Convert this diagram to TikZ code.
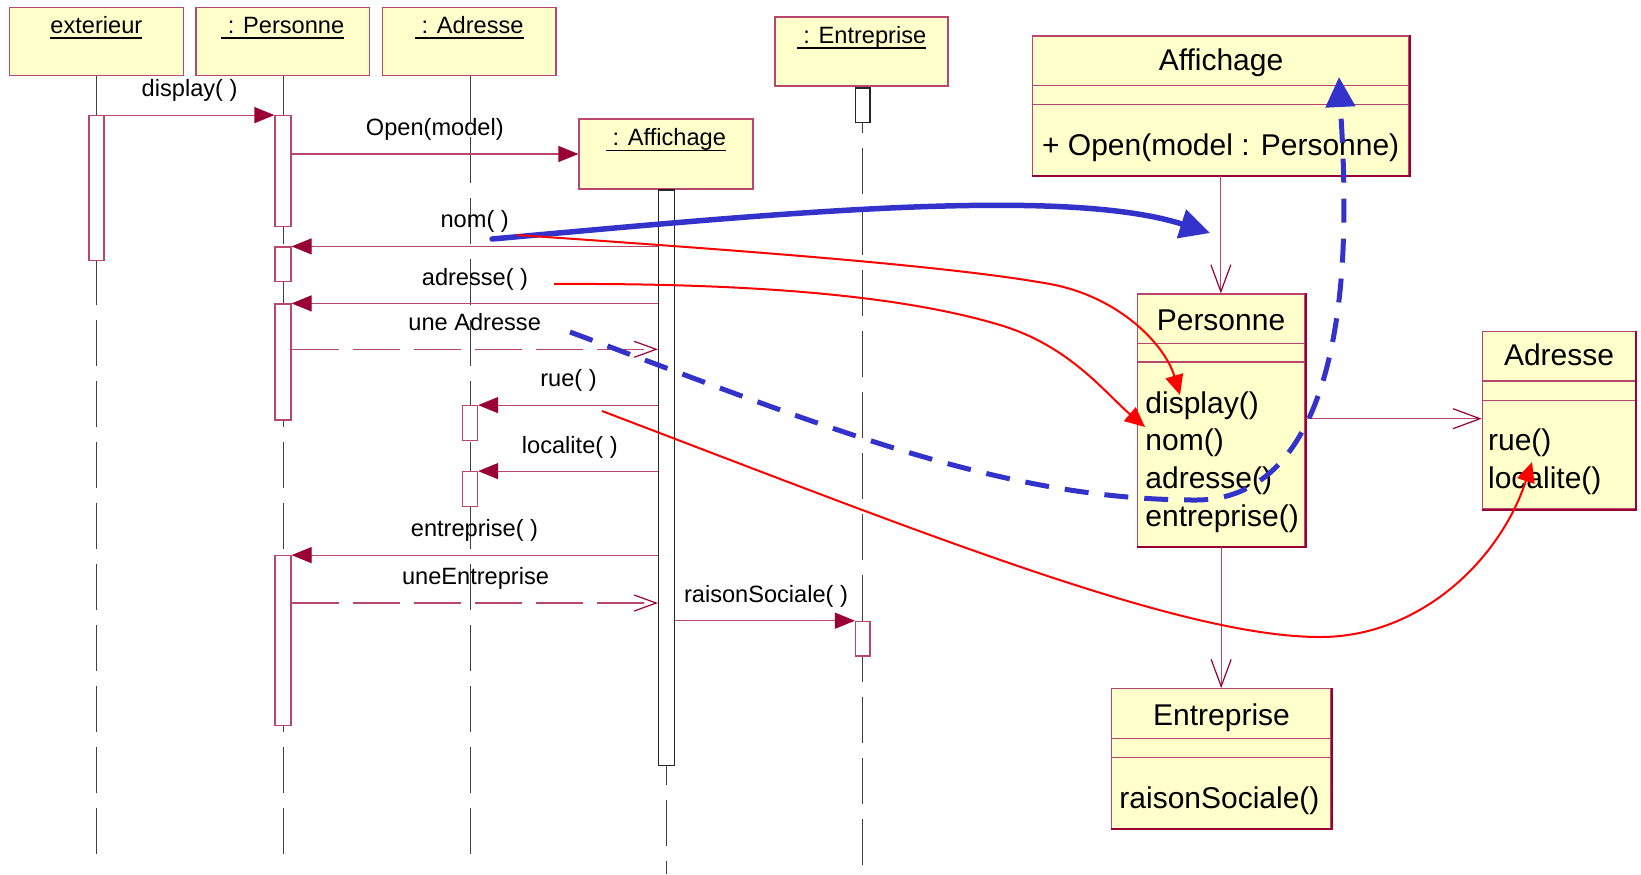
\documentclass[tikz,border=0pt]{standalone}
\usepackage{fontspec}
\setmainfont{Liberation Sans}
\usetikzlibrary{arrows.meta,fit}

\definecolor{paper}{HTML}{FFFFCC}
\definecolor{crim}{HTML}{990033}
\definecolor{rose}{HTML}{B8466E}
\definecolor{annblue}{HTML}{3333CC}
\definecolor{annred}{HTML}{FF0000}

% underlined object name, rule a little below the baseline
\newcommand\hdrul[1]{\setbox0\hbox{#1}\rlap{\rule[-2.9pt]{\wd0}{0.9pt}}\box0}

\begin{document}
\begin{tikzpicture}[x=0.5pt,y=-0.5pt,
  objbox/.style={draw=rose, fill=paper, line width=0.6pt, inner sep=0pt},
  clsbox/.style={draw=rose, fill=paper, line width=0.6pt, inner sep=0pt},
  actbar/.style={draw=rose, fill=white, line width=0.6pt, inner sep=0pt},
  darkbar/.style={draw=black!85, fill=white, line width=0.6pt, inner sep=0pt},
  lifeline/.style={draw=black!75, line width=0.5pt, dash pattern=on 23pt off 7.5pt},
  objname/.style={font=\fontsize{11.8}{14}\selectfont, anchor=base, inner sep=0pt},
  msglabel/.style={font=\fontsize{11.8}{14}\selectfont, anchor=base, inner sep=0pt},
  clstitle/.style={font=\fontsize{15}{18}\selectfont, anchor=base, inner sep=0pt},
  clsop/.style={font=\fontsize{15}{18}\selectfont, anchor=base west, inner sep=0pt},
  divider/.style={draw=rose, line width=0.6pt},
  shadowedge/.style={draw=crim, line width=0.9pt},
  call/.style={draw=rose, line width=0.6pt, -{Triangle[length=10pt,width=8pt,color=crim]}},
  reply/.style={draw=rose, line width=0.6pt, dash pattern=on 23.5pt off 7pt,
                -{Straight Barb[length=11pt,width=8pt,color=crim]}},
  assoc/.style={draw=rose, line width=0.6pt, -{Straight Barb[length=13.5pt,width=10pt,color=crim]}},
  bluearrow/.style={draw=annblue, line width=2.75pt, line cap=round,
                    -{Triangle[length=15pt,width=14.5pt]}},
  bluedash/.style={draw=annblue, line width=2.5pt, dash pattern=on 12pt off 8pt,
                   -{Triangle[length=15pt,width=14.5pt]}},
  redarrow/.style={draw=annred, line width=1pt, -{Triangle[length=10pt,width=9pt]}}
]
\useasboundingbox (0,0) rectangle (1641,874);
\fill[white] (0,0) rectangle (1641,874);

% ---------- sequence diagram: lifelines ----------
\node[objbox, fit={(9.6,7.3)(183.2,75.3)}] (oExt) {};
\node[objbox, fit={(196,7.3)(369.6,75.3)}] (oPer) {};
\node[objbox, fit={(382.5,7.3)(556,75.3)}] (oAdr) {};
\node[objbox, fit={(775,17)(948,86)}] (oEnt) {};
\node[objbox, fit={(579,119)(753,189)}] (oAff) {};

\coordinate (eExt) at (96.5,860);
\coordinate (ePer) at (283,860);
\coordinate (eAdr) at (470,860);
\coordinate (eEnt) at (862.7,869);
\coordinate (eAff) at (666.5,874);

\draw[lifeline] (oExt.south -| eExt) -- (eExt);
\draw[lifeline] (oPer.south -| ePer) -- (ePer);
\draw[lifeline] (oAdr.south -| eAdr) -- (eAdr);
\draw[lifeline] (oEnt.south -| eEnt) -- (eEnt);
\draw[lifeline] (oAff.south -| eAff) -- (eAff);

% redraw the header boxes over the lifeline starts
\node[objbox, fit={(9.6,7.3)(183.2,75.3)}] {};
\node[objbox, fit={(196,7.3)(369.6,75.3)}] {};
\node[objbox, fit={(382.5,7.3)(556,75.3)}] {};
\node[objbox, fit={(775,17)(948,86)}] {};
\node[objbox, fit={(579,119)(753,189)}] {};

\node[objname] (nExt) at (96.4,33.3) {\hdrul{exterieur}};
\node[objname] (nPer) at (282.8,33.3) {\hdrul{\ : Personne}};
\node[objname] (nAdr) at (469.3,33.3) {\hdrul{\ : Adresse}};
\node[objname] (nEnt) at (861.5,43.3) {\hdrul{\ : Entreprise}};
\node[objname] (nAff) at (666,145.5) {\hdrul{\ : Affichage}};

% ---------- activation bars ----------
\node[actbar, fit={(89,115.7)(104,260.6)}] (bExt) {};
\node[actbar, fit={(275,115.7)(291,226.7)}] (bPer1) {};
\node[actbar, fit={(275,247)(291,281.7)}] (bPer2) {};
\node[actbar, fit={(275,304)(291,420)}] (bPer3) {};
\node[actbar, fit={(275,555.7)(291,725.7)}] (bPer4) {};
\node[actbar, fit={(462.5,405.7)(477.5,440.7)}] (bAdr1) {};
\node[actbar, fit={(462.5,471.7)(477.5,506.3)}] (bAdr2) {};
\node[darkbar, fit={(658.5,190)(674.5,765.7)}] (bAff) {};
\node[darkbar, fit={(855.5,88)(870,122.7)}] (bEnt1) {};
\node[actbar, fit={(855.5,621.3)(870,656)}] (bEnt2) {};

% ---------- messages ----------
\coordinate (yRet1) at (0,349.3);
\coordinate (yRet2) at (0,603);

\draw[call] (bExt.north east) -- (bPer1.north west);
\draw[call] (bPer1.east |- oAff.west) -- (oAff.west);
\draw[call] (bAff.west |- bPer2.north) -- (bPer2.north east);
\draw[call] (bAff.west |- bPer3.north) -- (bPer3.north east);
\draw[reply] (bPer3.east |- yRet1) -- (bAff.west |- yRet1);
\draw[call] (bAff.west |- bAdr1.north) -- (bAdr1.north east);
\draw[call] (bAff.west |- bAdr2.north) -- (bAdr2.north east);
\draw[call] (bAff.west |- bPer4.north) -- (bPer4.north east);
\draw[reply] (bPer4.east |- yRet2) -- (bAff.west |- yRet2);
\draw[call] (bAff.east |- bEnt2.north) -- (bEnt2.north west);

\node[msglabel] (lDisplay) at (189.6,96.7) {display( )};
\node[msglabel] (lOpen) at (434.8,135) {Open(model)};
\node[msglabel] (lNom) at (474.7,227.7) {nom( )};
\node[msglabel] (lAdresse) at (475,285) {adresse( )};
\node[msglabel] (lUneAdr) at (474.7,330) {une Adresse};
\node[msglabel] (lRue) at (568.5,386.7) {rue( )};
\node[msglabel] (lLoc) at (569.8,453.3) {localite( )};
\node[msglabel] (lEntr) at (474.5,536.7) {entreprise( )};
\node[msglabel] (lUneEnt) at (475.5,584) {uneEntreprise};
\node[msglabel] (lRaison) at (766,602.7) {raisonSociale( )};

% ---------- class diagram ----------
\node[clsbox, fit={(1032.7,36)(1409,175.3)}] (cAff) {};
\draw[divider] (cAff.west |- 0,85.7) -- (cAff.east |- 0,85.7);
\draw[divider] (cAff.west |- 0,104.7) -- (cAff.east |- 0,104.7);
\draw[shadowedge] (cAff.north east) -- (cAff.south east) -- (cAff.south west);
\node[clstitle] (tAff) at (1221,70.7) {Affichage};
\node[clsop] (opOpen) at (1041.7,155) {+ Open(model : Personne)};

\node[clsbox, fit={(1137.3,294)(1305,546.7)}] (cPer) {};
\draw[divider] (cPer.west |- 0,343.3) -- (cPer.east |- 0,343.3);
\draw[divider] (cPer.west |- 0,362) -- (cPer.east |- 0,362);
\draw[shadowedge] (cPer.north east) -- (cPer.south east) -- (cPer.south west);
\node[clstitle] (tPer) at (1221,330.7) {Personne};
\node[clsop] (opDisplay) at (1145,413.3) {display()};
\node[clsop] (opNom) at (1145,450) {nom()};
\node[clsop] (opAdresse) at (1145,488.3) {adresse()};
\node[clsop] (opEntr) at (1145,526.7) {entreprise()};

\node[clsbox, fit={(1482.3,331.7)(1635.7,509)}] (cAdr) {};
\draw[divider] (cAdr.west |- 0,381) -- (cAdr.east |- 0,381);
\draw[divider] (cAdr.west |- 0,400.3) -- (cAdr.east |- 0,400.3);
\draw[shadowedge] (cAdr.north east) -- (cAdr.south east) -- (cAdr.south west);
\node[clstitle] (tAdr) at (1559,365.7) {Adresse};
\node[clsop] (opRue) at (1487.7,450.7) {rue()};
\node[clsop] (opLoc) at (1487.7,488.3) {localite()};

\node[clsbox, fit={(1111.7,688.7)(1331,828.3)}] (cEnt) {};
\draw[divider] (cEnt.west |- 0,738.7) -- (cEnt.east |- 0,738.7);
\draw[divider] (cEnt.west |- 0,757.3) -- (cEnt.east |- 0,757.3);
\draw[shadowedge] (cEnt.north east) -- (cEnt.south east) -- (cEnt.south west);
\node[clstitle] (tEnt) at (1221.5,725.7) {Entreprise};
\node[clsop] (opRaison) at (1119,808.3) {raisonSociale()};

\coordinate (yAssoc) at (0,418.7);
\draw[assoc] (cAff.south) -- (cPer.north -| cAff.south);
\draw[assoc] (cPer.east |- yAssoc) -- (cAdr.west |- yAssoc);
\draw[assoc] (cPer.south) -- (cEnt.north -| cPer.south);

% ---------- hand-drawn annotations ----------
% nom() call is answered by class Personne
\coordinate (nomFrom) at (492,239);
\coordinate (nomTo) at (1210,233);
\draw[bluearrow] (nomFrom) .. controls (760,215) and (1060,185) .. (nomTo);

% the returned address goes back to Affichage
\coordinate (retFrom) at (570,332);
\coordinate (retTo) at (1339,77);
\draw[bluedash] (retFrom) .. controls (820,425) and (1000,500) .. (1196,500)
  .. controls (1280,500) and (1335,420) .. (1343,250)
  .. controls (1346,180) and (1341,120) .. (retTo);

% operations called on Personne and Adresse
\coordinate (dispFrom) at (517,235);
\coordinate (dispTo) at (1180,395);
\draw[redarrow] (dispFrom) .. controls (750,251) and (950,266) .. (1050,284)
  .. controls (1120,297) and (1165,345) .. (dispTo);

\coordinate (nomCallFrom) at (554,284);
\coordinate (nomCallTo) at (1145,427);
\draw[redarrow] (nomCallFrom) .. controls (750,283) and (900,295) .. (1000,325)
  .. controls (1070,346) and (1105,393) .. (nomCallTo);

\coordinate (locFrom) at (602,411);
\coordinate (locTo) at (1532,462);
\draw[redarrow] (locFrom) .. controls (920,532) and (1180,637) .. (1320,637)
  .. controls (1420,637) and (1500,560) .. (locTo);
\end{tikzpicture}
\end{document}
